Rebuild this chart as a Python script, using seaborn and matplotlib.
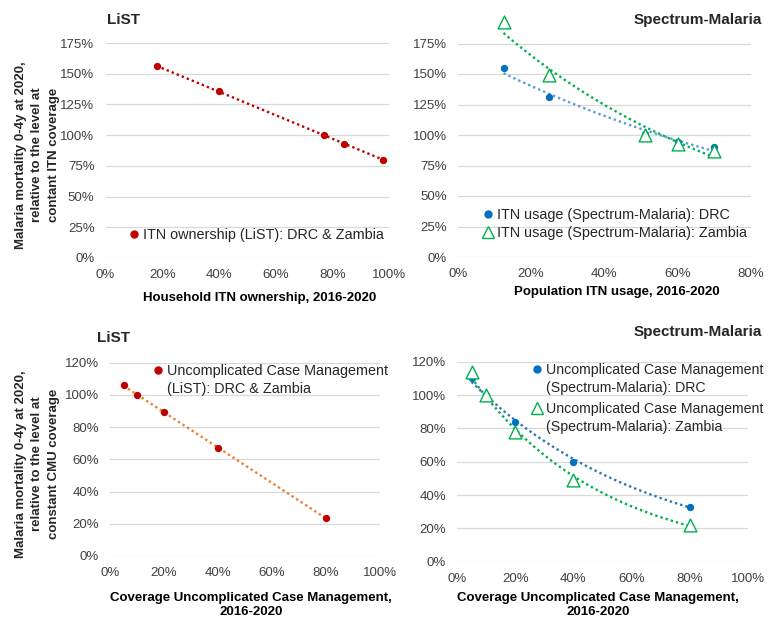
import matplotlib
matplotlib.use("Agg")
import matplotlib.pyplot as plt
import numpy as np
import seaborn as sns
from matplotlib.lines import Line2D
from matplotlib.ticker import PercentFormatter

# LiST: household ITN ownership (DRC & Zambia)
own_x = [18, 40, 77, 84, 98]
own_y = [156, 136, 100, 93, 80]

# Spectrum-Malaria: population ITN usage
use_x = [12.5, 25, 51, 60, 70]
use_drc = [155, 131, 101, 94, 90]
use_zmb = [193, 149, 100, 93, 87]

# Uncomplicated case management coverage
cmu_x = [5, 10, 20, 40, 80]
cmu_list = [106, 100, 89, 67, 23.5]
cmu_drc = [110, 100, 84, 60, 33]
cmu_zmb = [114, 100, 78, 49, 22]

RED = "#C00000"
ORANGE = "#ED7D31"
BLUE = "#0070C0"
LBLUE = "#5B9BD5"
DBLUE = "#2E75B6"
GREEN = "#00B050"
TXT = "#404040"

sns.set_theme(style="white")
plt.rcParams["font.family"] = ["Liberation Sans", "DejaVu Sans"]

W, H = 769, 620
fig = plt.figure(figsize=(W / 100, H / 100), dpi=100)


def px_axes(x0, x1, y0, y1):
    """axes from a pixel box (y measured from the top)"""
    return fig.add_axes([x0 / W, 1 - y0 / H, (x1 - x0) / W, (y0 - y1) / H])


def style(ax, xmax, ymax, ystep, ytop):
    ax.set_xlim(0, xmax)
    ax.set_ylim(0, ytop)
    ax.set_xticks(range(0, xmax + 1, 20))
    ax.set_yticks(range(0, ymax + 1, ystep))
    ax.xaxis.set_major_formatter(PercentFormatter(decimals=0))
    ax.yaxis.set_major_formatter(PercentFormatter(decimals=0))
    ax.yaxis.grid(True, color="#D9D9D9", lw=0.9)
    ax.xaxis.grid(False)
    for s in ax.spines.values():
        s.set_visible(False)
    ax.tick_params(length=0, labelsize=9.5, colors=TXT, pad=8)
    ax.set_facecolor("none")


LINE = dict(ls=(0, (1, 1.3)), lw=1.7)


def trend(ax, x, y, color):
    # linear trendline
    sns.regplot(x=x, y=y, ax=ax, scatter=False, order=1, ci=None,
                truncate=True, line_kws=dict(color=color, **LINE))


def exp_trend(ax, x, y, color):
    # exponential trendline fitted to the points (as in the spreadsheet)
    b, a = np.polyfit(x, np.log(y), 1)
    xs = np.linspace(min(x), max(x), 100)
    sns.lineplot(x=xs, y=np.exp(a + b * xs), ax=ax, color=color, **LINE)


def dots(ax, x, y, color):
    sns.scatterplot(x=x, y=y, ax=ax, color=color, s=28, edgecolor=color,
                    linewidth=0, zorder=4, legend=False, clip_on=False)


def tris(ax, x, y):
    sns.scatterplot(x=x, y=y, ax=ax, marker="^", s=85, facecolor="white",
                    edgecolor=GREEN, linewidth=1.0, zorder=5, legend=False,
                    clip_on=False)


def xlabel(ax, text, xc, yc):
    ax.set_xlabel(text, fontsize=9.5, fontweight="bold", color="black",
                  linespacing=1.3)
    ax.xaxis.set_label_coords(xc / W, 1 - yc / H, transform=fig.transFigure)
    ax.xaxis.label.set_va("center")


def legend(ax, handles, labels, x, y, size, spacing=0.25):
    return ax.legend(handles, labels, loc="upper left",
                     bbox_to_anchor=(x / W, 1 - y / H),
                     bbox_transform=fig.transFigure, frameon=False,
                     fontsize=size, handlelength=0.6, handletextpad=0.3,
                     borderpad=0, borderaxespad=0, labelspacing=spacing)


dot_h = lambda c: Line2D([], [], ls="none", marker="o", ms=5, color=c)
tri_h = Line2D([], [], ls="none", marker="^", ms=9, mfc="white",
               mec=GREEN, mew=1.0)
blank = Line2D([], [], ls="none")

# ---- top left: LiST ITN ownership
ax1 = px_axes(105.6, 389, 258, 43)
style(ax1, 100, 175, 25, 175)
trend(ax1, own_x, own_y, RED)
dots(ax1, own_x, own_y, RED)
xlabel(ax1, "Household ITN ownership, 2016-2020", 260, 298)
legend(ax1, [dot_h(RED)], ["ITN ownership (LiST): DRC & Zambia"],
       130, 228, 10.4)

# ---- top right: Spectrum-Malaria ITN usage
ax2 = px_axes(457.7, 751, 257, 13)
style(ax2, 80, 175, 25, 200)
exp_trend(ax2, use_x, use_drc, LBLUE)
exp_trend(ax2, use_x, use_zmb, GREEN)
dots(ax2, use_x, use_drc, BLUE)
tris(ax2, use_x, use_zmb)
xlabel(ax2, "Population ITN usage, 2016-2020", 617, 292)
legend(ax2, [dot_h(BLUE), tri_h],
       ["ITN usage (Spectrum-Malaria): DRC",
        "ITN usage (Spectrum-Malaria): Zambia"],
       484, 208, 10.4, 0.27)

# ---- bottom left: LiST CMU
ax3 = px_axes(110, 380, 556, 362.5)
style(ax3, 100, 120, 20, 120)
trend(ax3, cmu_x, cmu_list, ORANGE)
dots(ax3, cmu_x, cmu_list, RED)
xlabel(ax3, "Coverage Uncomplicated Case Management,\n2016-2020", 251, 605)
legend(ax3, [dot_h(RED), blank],
       ["Uncomplicated Case Management", "(LiST): DRC & Zambia"],
       154, 364, 10.4)

# ---- bottom right: Spectrum-Malaria CMU
ax4 = px_axes(457, 748, 561.7, 361.7)
style(ax4, 100, 120, 20, 120)
exp_trend(ax4, cmu_x, cmu_drc, DBLUE)
exp_trend(ax4, cmu_x, cmu_zmb, GREEN)
dots(ax4, cmu_x, cmu_drc, BLUE)
tris(ax4, cmu_x, cmu_zmb)
xlabel(ax4, "Coverage Uncomplicated Case Management,\n2016-2020", 598, 605)
leg_drc = legend(ax4, [dot_h(BLUE), blank],
                 ["Uncomplicated Case Management",
                  "(Spectrum-Malaria): DRC"], 533, 363, 10.2)
ax4.add_artist(leg_drc)
legend(ax4, [tri_h, blank],
       ["Uncomplicated Case Management", "(Spectrum-Malaria): Zambia"],
       533, 402, 10.2)

# panel titles
for x, y, t, ha in [(107, 20, "LiST", "left"),
                    (762, 20, "Spectrum-Malaria", "right"),
                    (97, 338, "LiST", "left"),
                    (762, 332, "Spectrum-Malaria", "right")]:
    fig.text(x / W, 1 - y / H, t, fontsize=11, fontweight="bold",
             ha=ha, va="center")

# shared y labels
for yc, last in [(155, "contant ITN coverage"),
                 (464, "constant CMU coverage")]:
    fig.text(37.5 / W, 1 - yc / H,
             "Malaria mortality 0-4y at 2020,\nrelative to the level at\n"
             + last, rotation=90, ha="center", va="center",
             fontsize=9.5, fontweight="bold", linespacing=1.5,
             multialignment="center")

fig.savefig("out.png", dpi=100)
